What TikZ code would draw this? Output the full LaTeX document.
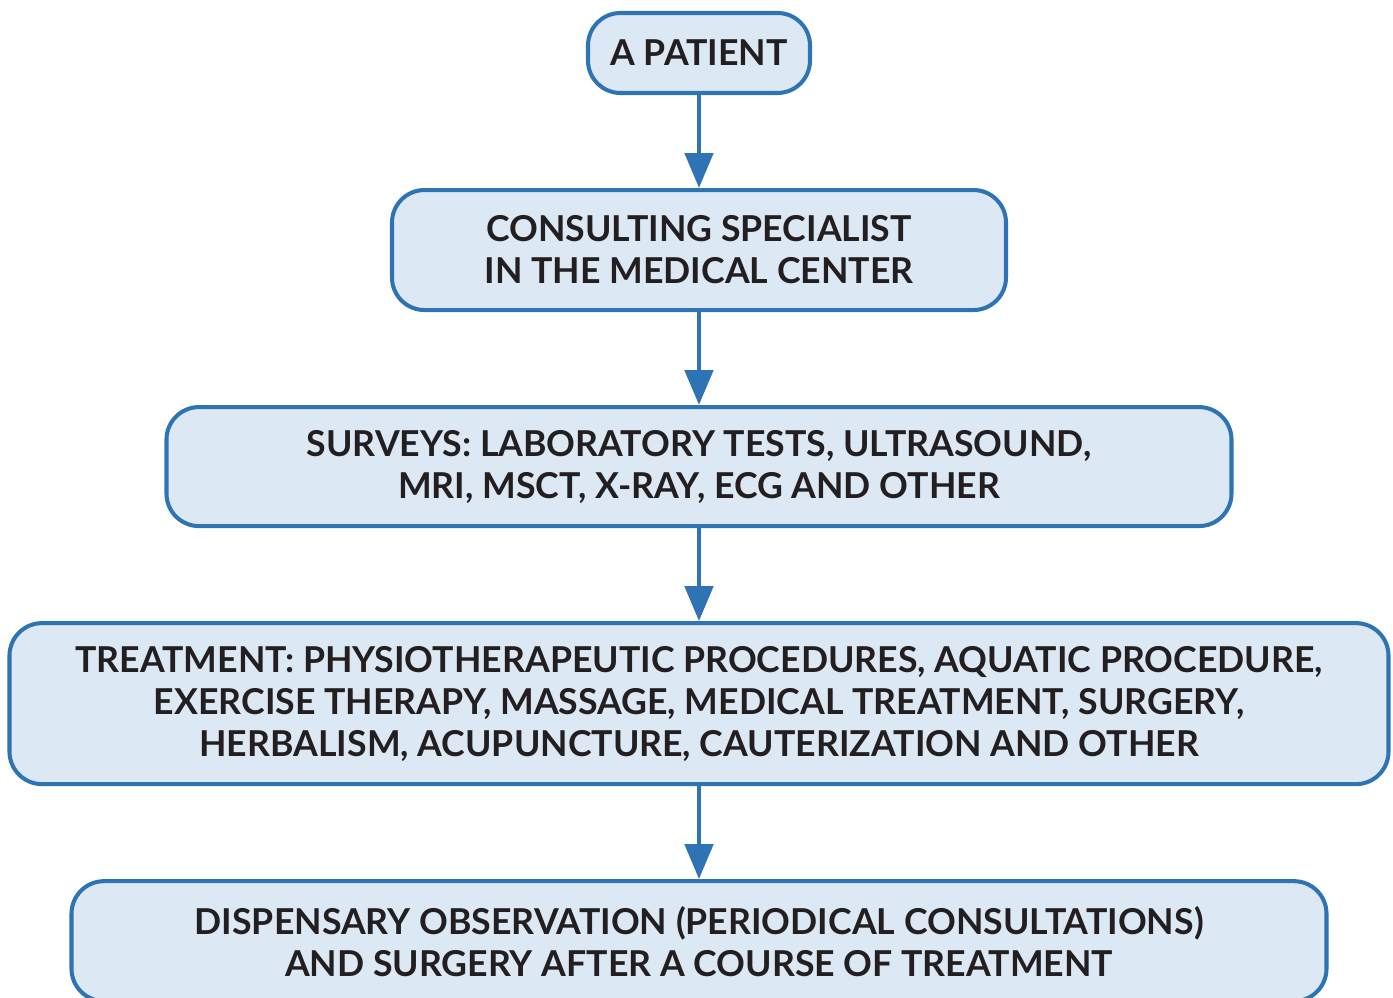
\documentclass[tikz,border=0pt]{standalone}
\usepackage{fontspec}
\setmainfont{Lato}
\usetikzlibrary{positioning, arrows.meta}
\definecolor{boxline}{RGB}{46,116,181}
\definecolor{boxfill}{RGB}{221,232,245}
\definecolor{boxtext}{RGB}{35,31,32}
\tikzstyle{stage} = [rectangle, rounded corners=0.65cm, draw=boxline, line width=2.3pt, fill=boxfill,
  text=boxtext, align=center, font=\fontsize{20.3}{23.9}\selectfont\bfseries]
\tikzstyle{arrow} = [line width=2.8pt, -{Triangle[width=0.56cm,length=0.7cm]}, draw=boxline]

\begin{document}
\begin{tikzpicture}[node distance=1.86cm]
  \clip (-13.98,1.06) rectangle (13.88,-18.9);
  % Draw nodes
  \node (patient)[stage, minimum width=4.44cm, minimum height=1.6cm] {A PATIENT};
  \node (consult)[stage, below=of patient, minimum width=12.28cm, minimum height=2.4cm]
    {CONSULTING SPECIALIST\\IN THE MEDICAL CENTER};
  \node (surveys)[stage, below=of consult, minimum width=21.3cm, minimum height=2.38cm]
    {SURVEYS: LABORATORY TESTS, ULTRASOUND,\\MRI, MSCT, X-RAY, ECG AND OTHER};
  \node (treat)[stage, below=of surveys, minimum width=27.58cm, minimum height=3.22cm]
    {TREATMENT: PHYSIOTHERAPEUTIC PROCEDURES, AQUATIC PROCEDURE,\\EXERCISE THERAPY, MASSAGE, MEDICAL TREATMENT, SURGERY,\\HERBALISM, ACUPUNCTURE, CAUTERIZATION AND OTHER};
  \node (observe)[stage, below=of treat, minimum width=25.1cm, minimum height=2.4cm]
    {DISPENSARY OBSERVATION (PERIODICAL CONSULTATIONS)\\AND SURGERY AFTER A COURSE OF TREATMENT};
  % Draw arrows
  \draw [arrow] (patient) -- (consult);
  \draw [arrow] (consult) -- (surveys);
  \draw [arrow] (surveys) -- (treat);
  \draw [arrow] (treat) -- (observe);
\end{tikzpicture}
\end{document}
